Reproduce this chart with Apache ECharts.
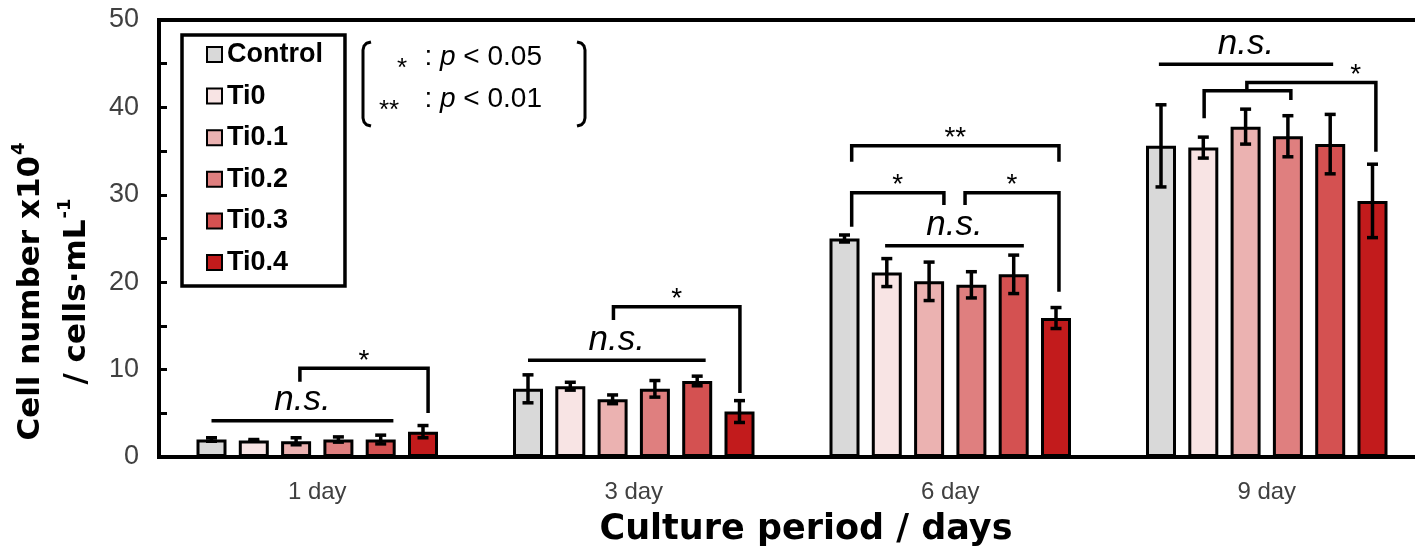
<!DOCTYPE html>
<html>
<head>
<meta charset="utf-8">
<script src="https://cdn.jsdelivr.net/npm/echarts@6/dist/echarts.min.js"></script>
<style>
  html, body { margin: 0; padding: 0; background: #fff; }
  #chart { width: 1415px; height: 558px; }
</style>
</head>
<body>
<div id="chart"></div>
<script>
// ---- data ----
const days = ['1 day', '3 day', '6 day', '9 day'];
const groupNames = ['Control', 'Ti0', 'Ti0.1', 'Ti0.2', 'Ti0.3', 'Ti0.4'];

// mean cell number (x10^4 cells/mL) and standard deviation per culture day
const controlMean = [2.0, 7.8, 25.0, 35.6];
const controlSd   = [0.2, 1.6, 0.4, 4.7];
const ti0Mean     = [1.9, 8.1, 21.1, 35.4];
const ti0Sd       = [0.1, 0.45, 1.6, 1.2];
const ti01Mean    = [1.8, 6.6, 20.1, 37.8];
const ti01Sd      = [0.4, 0.5, 2.2, 2.0];
const ti02Mean    = [2.0, 7.8, 19.7, 36.7];
const ti02Sd      = [0.3, 0.95, 1.5, 2.35];
const ti03Mean    = [2.0, 8.7, 20.9, 35.8];
const ti03Sd      = [0.5, 0.55, 2.2, 3.4];
const ti04Mean    = [2.9, 5.2, 15.9, 29.3];
const ti04Sd      = [0.7, 1.25, 1.2, 4.2];

const yMin = 0, yMax = 50, yStep = 10;

// non-significant spans: [day, from bar, to bar, level]
const nsSpans = [
  [0, 0, 4.3, 4.15],
  [1, 0, 4.2, 11.06],
  [2, 0.96, 4.24, 24.18],
  [3, -0.05, 4.07, 44.93]
];
// significance brackets: [day, left bar, right bar, top level, left foot, right foot, mark, mark bar]
const brackets = [
  [0, 2.09, 5.12, 10.15, 8.62, 5.03, '*', -1],
  [1, 2.02, 5.01, 17.2, 15.68, 7.32, '*', -1],
  [2, 0.17, 5.07, 35.62, 33.79, 33.79, '**', -1],
  [2, 0.17, 2.35, 30.24, 26.35, 28.83, '*', -1],
  [2, 2.85, 5.07, 30.24, 28.83, 18.91, '*', -1],
  [3, 1.02, 3.07, 41.91, 38.75, 40.85, '', -1],
  [3, 2.03, 5.08, 42.86, 41.91, 34.93, '*', 4.6]
];
// significance key rows: [marker, threshold]
const pKey = [['*', '0.05'], ['**', '0.01']];

// ---- styling ----
const palette = ['#d9d9d9', '#f8e4e4', '#ebb2b1', '#df7f7f', '#d45151', '#c21b1c'];
const means = [controlMean, ti0Mean, ti01Mean, ti02Mean, ti03Mean, ti04Mean];
const sds = [controlSd, ti0Sd, ti01Sd, ti02Sd, ti03Sd, ti04Sd];

const BAR_W = 30;
const BAR_GAP = 0.41;
const PITCH = BAR_W * (1 + BAR_GAP);
const SANS = '"Liberation Sans", Arial, sans-serif';
const WIDE = '"DejaVu Sans", sans-serif';
const INK = '#000';

function barOffset(pos) {
  return (pos - (groupNames.length - 1) / 2) * PITCH;
}

const barSeries = groupNames.map((name, i) => ({
  name: name,
  type: 'bar',
  data: means[i],
  barWidth: BAR_W,
  barGap: (BAR_GAP * 100) + '%',
  itemStyle: { color: palette[i], borderColor: INK, borderWidth: 3 },
  z: 2
}));

const errorData = [];
groupNames.forEach((name, g) => {
  means[g].forEach((m, d) => errorData.push([d, m, sds[g][d], g]));
});

function renderErrorBar(params, api) {
  const day = api.value(0), mean = api.value(1), sd = api.value(2), g = api.value(3);
  const hi = api.coord([day, mean + sd]);
  const lo = api.coord([day, mean - sd]);
  const x = hi[0] + barOffset(g);
  const cap = 5.5;
  const style = { stroke: INK, lineWidth: 3.5, fill: null };
  return {
    type: 'group',
    children: [
      { type: 'line', shape: { x1: x, y1: hi[1], x2: x, y2: lo[1] }, style: style },
      { type: 'line', shape: { x1: x - cap, y1: hi[1], x2: x + cap, y2: hi[1] }, style: style },
      { type: 'line', shape: { x1: x - cap, y1: lo[1], x2: x + cap, y2: lo[1] }, style: style }
    ]
  };
}

function renderNs(params, api) {
  const s = nsSpans[params.dataIndex];
  const c = api.coord([s[0], s[3]]);
  const x1 = c[0] + barOffset(s[1]);
  const x2 = c[0] + barOffset(s[2]);
  return {
    type: 'group',
    children: [
      { type: 'line', shape: { x1: x1, y1: c[1], x2: x2, y2: c[1] },
        style: { stroke: INK, lineWidth: 3.5 } },
      { type: 'text', x: (x1 + x2) / 2, y: c[1] - 20,
        style: { text: 'n.s.', font: 'italic 35px ' + SANS, fill: INK,
                 textAlign: 'center', textVerticalAlign: 'middle' } }
    ]
  };
}

function renderBracket(params, api) {
  const b = brackets[params.dataIndex];
  const c = api.coord([b[0], b[3]]);
  const xl = c[0] + barOffset(b[1]);
  const xr = c[0] + barOffset(b[2]);
  const yl = api.coord([b[0], b[4]])[1];
  const yr = api.coord([b[0], b[5]])[1];
  const children = [{
    type: 'polyline',
    shape: { points: [[xl, yl], [xl, c[1]], [xr, c[1]], [xr, yr]] },
    style: { stroke: INK, lineWidth: 3.5, fill: null, lineJoin: 'miter' }
  }];
  if (b[6]) {
    const mx = b[7] >= 0 ? c[0] + barOffset(b[7]) : (xl + xr) / 2;
    children.push({
      type: 'text', x: mx, y: c[1] - 7,
      style: { text: b[6], font: '28px ' + SANS, fill: INK,
               textAlign: 'center', textVerticalAlign: 'middle' }
    });
  }
  return { type: 'group', children: children };
}

// significance key: brackets plus two rows of text
const keyRowY = [57, 99];
const keyMarkX = [402, 389];
const keyGraphics = [
  { type: 'polyline', silent: true,
    shape: { points: [[371, 42], [366.5, 43.2], [364, 46], [363, 50], [363, 118], [364, 122], [366.5, 124.8], [371, 126]] },
    style: { stroke: INK, lineWidth: 3, fill: null, lineJoin: 'round' } },
  { type: 'polyline', silent: true,
    shape: { points: [[577, 42], [581.5, 43.2], [584, 46], [585, 50], [585, 118], [584, 122], [581.5, 124.8], [577, 126]] },
    style: { stroke: INK, lineWidth: 3, fill: null, lineJoin: 'round' } }
];
pKey.forEach((row, i) => {
  keyGraphics.push({
    type: 'text', silent: true, x: keyMarkX[i], y: keyRowY[i] + 12,
    style: { text: row[0], font: '26px ' + SANS, fill: INK, textAlign: 'center', textVerticalAlign: 'middle' }
  });
  keyGraphics.push({
    type: 'text', silent: true, x: 542, y: keyRowY[i],
    style: { text: ': {i|p} < ' + row[1], font: '28px ' + SANS, fill: INK,
             textAlign: 'right', textVerticalAlign: 'middle',
             rich: { i: { fontStyle: 'italic', fontFamily: SANS, fontSize: 28 } } }
  });
});

const chart = echarts.init(document.getElementById('chart'), null, { renderer: 'canvas' });

chart.setOption({
  animation: false,
  backgroundColor: '#fff',
  grid: {
    left: 159, right: -10, top: 20, bottom: 101,
    show: true, borderColor: INK, borderWidth: 4, backgroundColor: 'transparent',
    containLabel: false, outerBoundsMode: 'none'
  },
  legend: {
    data: groupNames,
    orient: 'vertical',
    left: 182, top: 35,
    padding: [6, 22, 10, 24],
    itemGap: 14.6,
    itemWidth: 15, itemHeight: 15,
    icon: 'rect',
    borderColor: INK, borderWidth: 3.5,
    itemStyle: { borderColor: INK, borderWidth: 2 },
    textStyle: { fontFamily: SANS, fontWeight: 'bold', fontSize: 27, lineHeight: 27, color: INK },
    selectedMode: false
  },
  xAxis: {
    type: 'category',
    data: days,
    boundaryGap: true,
    axisLine: { lineStyle: { color: INK, width: 4 } },
    axisTick: { show: false },
    axisLabel: { fontFamily: SANS, fontSize: 24, color: '#404040', margin: 23 },
    splitLine: { show: false },
    name: 'Culture period / days',
    nameLocation: 'middle',
    nameGap: 55,
    nameTextStyle: { fontFamily: WIDE, fontWeight: 'bold', fontSize: 35, color: INK,
                     padding: [0, 0, 0, 28] }
  },
  yAxis: {
    type: 'value',
    min: yMin, max: yMax, interval: yStep,
    axisLine: { show: true, lineStyle: { color: INK, width: 4 } },
    axisTick: { show: true, inside: true, length: 8, lineStyle: { color: INK, width: 3 } },
    minorTick: { show: true, splitNumber: 2, length: 8, lineStyle: { color: INK, width: 3 } },
    axisLabel: { fontFamily: SANS, fontSize: 27, color: '#404040', margin: 20 },
    splitLine: { show: false },
    name: '{t|Cell number x10}{s|4}\n{t|/ cells\u00b7mL}{s|-1}',
    nameLocation: 'middle',
    nameRotate: 90,
    nameGap: 49,
    nameTextStyle: {
      padding: [0, 106, 0, 0],
      rich: {
        t: { fontFamily: WIDE, fontWeight: 'bold', fontSize: 31, lineHeight: 46, color: INK },
        s: { fontFamily: WIDE, fontWeight: 'bold', fontSize: 18, lineHeight: 18, color: INK,
             padding: [0, 0, 24, 1] }
      }
    }
  },
  graphic: keyGraphics,
  series: barSeries.concat([
    {
      name: 'error',
      type: 'custom',
      renderItem: renderErrorBar,
      data: errorData,
      encode: { x: 0, y: 1 },
      z: 5,
      silent: true
    },
    {
      name: 'ns',
      type: 'custom',
      renderItem: renderNs,
      data: nsSpans.map(s => [s[0], s[3]]),
      encode: { x: 0, y: 1 },
      z: 6,
      clip: false,
      silent: true
    },
    {
      name: 'sig',
      type: 'custom',
      renderItem: renderBracket,
      data: brackets.map(b => [b[0], b[3]]),
      encode: { x: 0, y: 1 },
      z: 6,
      clip: false,
      silent: true
    }
  ])
});
</script>
</body>
</html>
